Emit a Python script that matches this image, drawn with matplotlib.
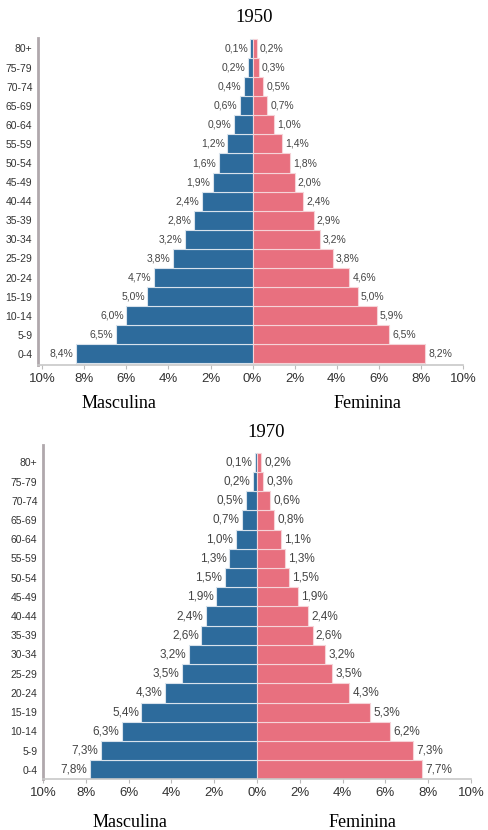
import matplotlib.pyplot as plt

# Age groups, youngest first (bottom of pyramid)
age_groups = ['0-4', '5-9', '10-14', '15-19', '20-24', '25-29', '30-34', '35-39',
              '40-44', '45-49', '50-54', '55-59', '60-64', '65-69', '70-74', '75-79', '80+']

male_1950 = [8.4, 6.5, 6.0, 5.0, 4.7, 3.8, 3.2, 2.8, 2.4, 1.9, 1.6, 1.2, 0.9, 0.6, 0.4, 0.2, 0.1]
female_1950 = [8.2, 6.5, 5.9, 5.0, 4.6, 3.8, 3.2, 2.9, 2.4, 2.0, 1.8, 1.4, 1.0, 0.7, 0.5, 0.3, 0.2]

male_1970 = [7.8, 7.3, 6.3, 5.4, 4.3, 3.5, 3.2, 2.6, 2.4, 1.9, 1.5, 1.3, 1.0, 0.7, 0.5, 0.2, 0.1]
female_1970 = [7.7, 7.3, 6.2, 5.3, 4.3, 3.5, 3.2, 2.6, 2.4, 1.9, 1.5, 1.3, 1.1, 0.8, 0.6, 0.3, 0.2]

x_ticks = [-10, -8, -6, -4, -2, 0, 2, 4, 6, 8, 10]

BLUE = '#2d6b9c'
PINK = '#e8707f'
W, H = 489, 830


def pct(v):
    return f"{v:.1f}%".replace('.', ',')


def pyramid(fig, box, male, female, year, xlim, ylim, title_xy, lab_m, lab_f, val_size):
    left, top, right, bottom = box
    ax = fig.add_axes([left / W, 1 - bottom / H, (right - left) / W, (bottom - top) / H])
    y = range(len(age_groups))
    ax.barh(y, [-m for m in male], height=1.0, color=BLUE, edgecolor='#d8e2ec', linewidth=0.8)
    ax.barh(y, female, height=1.0, color=PINK, edgecolor='#f6d3d8', linewidth=0.8)
    for i, (m, f) in enumerate(zip(male, female)):
        ax.text(-m - 0.12, i, pct(m), ha='right', va='center', fontsize=val_size, color='#444444')
        ax.text(f + 0.15, i, pct(f), ha='left', va='center', fontsize=val_size, color='#444444')
    ax.set_xlim(*xlim)
    ax.set_ylim(*ylim)
    ax.set_yticks(list(y))
    ax.set_yticklabels(age_groups, fontsize=7.5, color='#333333')
    ax.set_xticks(x_ticks)
    ax.set_xticklabels([f"{abs(t)}%" for t in x_ticks], fontsize=9.5, color='#333333')
    ax.tick_params(axis='y', length=0, pad=4)
    ax.tick_params(axis='x', length=3, color='#bbbbbb', pad=3)
    for s in ['top', 'right']:
        ax.spines[s].set_visible(False)
    ax.spines['left'].set_color('#b0a8ac')
    ax.spines['left'].set_linewidth(2)
    ax.spines['bottom'].set_color('#c8c8c8')
    ax.spines['bottom'].set_linewidth(1.2)

    fig.text(title_xy[0] / W, 1 - title_xy[1] / H, year, ha='center', va='center',
             fontsize=13.5, family='Liberation Serif')
    fig.text(lab_m[0] / W, 1 - lab_m[1] / H, 'Masculina', ha='center', va='center',
             fontsize=13, family='Liberation Serif')
    fig.text(lab_f[0] / W, 1 - lab_f[1] / H, 'Feminina', ha='center', va='center',
             fontsize=13, family='Liberation Serif')


plt.rcParams['font.family'] = ['Liberation Sans', 'DejaVu Sans']
fig = plt.figure(figsize=(W / 100, H / 100), dpi=100)

pyramid(fig, (38, 38, 463, 365), male_1950, female_1950, '1950',
        (-10.2, 10), (-0.58, 16.55), (254, 17), (119, 404), (367, 404), 7.5)
pyramid(fig, (43, 445, 471, 779), male_1970, female_1970, '1970',
        (-10, 10), (-0.48, 16.9), (266, 432), (130, 822), (362, 822), 8.5)

fig.savefig('out.png', dpi=100)
